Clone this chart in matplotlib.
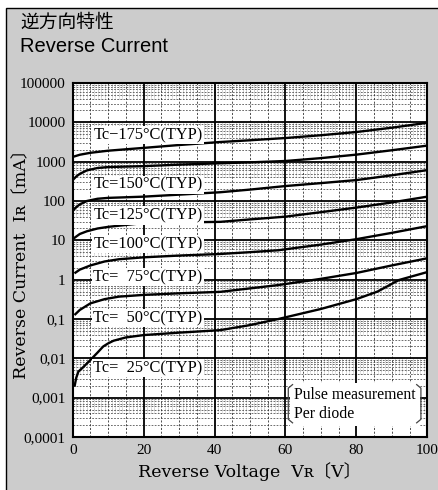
import numpy as np
import matplotlib.pyplot as plt
from matplotlib.patches import Rectangle

# ---------------- data ----------------
v_175 = [0, 2, 5, 10, 20, 30, 41.6, 50, 60, 70, 80, 90, 100]
i_175 = [1320, 1500, 1680, 1900, 2240, 2650, 3160, 3500, 3990, 4700, 5670, 7300, 9760]

v_150 = [0, 1, 2, 4, 7, 10, 20, 30, 41.6, 50, 60, 70, 80, 90, 100]
i_150 = [340, 420, 490, 600, 690, 730, 770, 840, 910, 960, 1040, 1230, 1510, 1950, 2560]

v_125 = [0, 1, 2, 4, 7, 10, 20, 30, 41.6, 50, 60, 70, 80, 90, 100]
i_125 = [56, 70, 82, 100, 114, 120, 129, 145, 167, 195, 240, 285, 340, 450, 610]

v_100 = [0, 1, 2, 4, 7, 10, 20, 30, 41.6, 50, 60, 70, 80, 90, 100]
i_100 = [10.7, 12.5, 14.5, 17, 20, 22, 27.5, 28.5, 29.5, 34, 40, 52, 68, 92, 129]

v_75 = [0.5, 2, 5, 9, 13, 20, 30, 41.6, 50, 58, 70, 80, 90, 100]
i_75 = [1.45, 1.8, 2.3, 2.9, 3.3, 3.7, 4.1, 4.5, 5.0, 5.6, 7.8, 10.7, 15.5, 23]

v_50 = [0.5, 2, 5, 9, 13, 20, 30, 41.6, 50, 58, 70, 80, 90, 100]
i_50 = [0.126, 0.17, 0.25, 0.32, 0.37, 0.41, 0.45, 0.49, 0.6, 0.73, 1.05, 1.48, 2.3, 3.5]

v_25 = [0.5, 1, 1.6, 3, 5, 7, 8.6, 10, 11.5, 15, 20, 30, 41.6, 50, 58, 70, 80, 86, 92, 100]
i_25 = [0.0019, 0.0032, 0.0046, 0.006, 0.0091, 0.014, 0.02, 0.024, 0.028, 0.034, 0.039,
        0.045, 0.052, 0.07, 0.1, 0.18, 0.32, 0.5, 0.98, 1.56]

curves = [(v_175, i_175), (v_150, i_150), (v_125, i_125), (v_100, i_100),
          (v_75, i_75), (v_50, i_50), (v_25, i_25)]

# curve labels and where they sit (V, mA)
label_texts = ['Tc\u2212175°C(TYP)', 'Tc=150°C(TYP)', 'Tc=125°C(TYP)', 'Tc=100°C(TYP)',
               'Tc=  75°C(TYP)', 'Tc=  50°C(TYP)', 'Tc=  25°C(TYP)']
label_y = [4700, 260, 43, 8, 1.15, 0.105, 0.0057]
label_x = 5.8

y_ticks = [1e-4, 1e-3, 1e-2, 1e-1, 1, 10, 100, 1000, 10000, 100000]
y_tick_labels = ['0,0001', '0,001', '0,01', '0,1', '1', '10', '100', '1000', '10000', '100000']
x_ticks = [0, 20, 40, 60, 80, 100]

# ---------------- figure ----------------
fig = plt.figure(figsize=(4.39, 4.9), dpi=100, facecolor='white')
fig.patches.append(Rectangle((6 / 439, -0.1), 1.2, (490 - 8) / 490 + 0.1,
                             transform=fig.transFigure, facecolor='#cccccc',
                             edgecolor='black', linewidth=1.0, zorder=-5))

fig.text(20 / 439, 1 - 22 / 490, '逆方向特性', fontsize=13.5, family=['Noto Sans CJK JP'],
         va='center', ha='left')
fig.text(20 / 439, 1 - 46 / 490, 'Reverse Current', fontsize=14.5,
         family=['Liberation Sans'], va='center', ha='left')

ax = fig.add_axes([72.7 / 439, 1 - 437 / 490, (427.3 - 72.7) / 439, (437 - 83) / 490])
ax.set_facecolor('white')
ax.set_yscale('log')
ax.set_xlim(0, 100)
ax.set_ylim(1e-4, 1e5)

# grid: 1 V dotted in upper part of each decade, 5 V dashed, decade minors dashed
for k in range(-4, 5):
    lo, hi = 4 * 10.0 ** k, 10.0 ** (k + 1)
    for v in range(1, 100):
        if v % 5:
            ax.plot([v, v], [lo, hi], color='#8a8a8a', lw=0.45, ls=(0, (1, 1)), zorder=1)
    for m in range(2, 10):
        ax.axhline(m * 10.0 ** k, color='#333333', lw=0.5, ls=(0, (2.5, 2)), zorder=1)
for v in range(5, 100, 5):
    if v % 20:
        ax.axvline(v, color='#333333', lw=0.6, ls=(0, (2.5, 2)), zorder=1)
for v in x_ticks[1:-1]:
    ax.axvline(v, color='black', lw=1.3, zorder=2)
for y in y_ticks[1:-1]:
    ax.axhline(y, color='black', lw=1.3, zorder=2)

for v, i in curves:
    ax.plot(v, i, color='black', lw=1.7, zorder=4, solid_capstyle='butt')

for txt, y in zip(label_texts, label_y):
    ax.text(label_x, y, txt, fontsize=11.8, family=['Liberation Serif', 'DejaVu Serif'],
            va='center', ha='left', zorder=5,
            bbox=dict(facecolor='white', edgecolor='none', pad=0.8))

# measurement note with bracket
ax.text(0.624, 0.092, 'Pulse measurement\nPer diode', transform=ax.transAxes,
        fontsize=11.3, family=['Liberation Serif'], va='center', ha='left',
        linespacing=1.2, zorder=5,
        bbox=dict(facecolor='white', edgecolor='none', pad=3))
bx0, bx1, by0, by1 = 0.608, 0.982, 0.04, 0.148
ax.plot([bx0 + 0.012, bx0, bx0, bx0 + 0.012], [by1, by1 - 0.01, by0 + 0.01, by0],
        transform=ax.transAxes, color='#444444', lw=0.9, zorder=6)
ax.plot([bx1 - 0.012, bx1, bx1, bx1 - 0.012], [by1, by1 - 0.01, by0 + 0.01, by0],
        transform=ax.transAxes, color='#444444', lw=0.9, zorder=6)

ax.set_yticks(y_ticks)
ax.set_yticklabels(y_tick_labels)
ax.set_xticks(x_ticks)
ax.minorticks_off()
ax.tick_params(length=0, pad=5, labelsize=11)
for lab in ax.get_xticklabels() + ax.get_yticklabels():
    lab.set_family(['Liberation Serif'])
for s in ax.spines.values():
    s.set_linewidth(1.5)
    s.set_zorder(6)

ax.set_xlabel('Reverse Voltage  V\u0280\u3014V\u3015', fontsize=12.5,
              family=['DejaVu Serif', 'Noto Sans CJK JP'], labelpad=4)
ax.set_ylabel('Reverse Current  I\u0280\u3014mA\u3015', fontsize=12.5,
              family=['DejaVu Serif', 'Noto Sans CJK JP'])
ax.yaxis.set_label_coords(-0.12, 0.5)

fig.savefig('out.png', dpi=100, facecolor=fig.get_facecolor())
